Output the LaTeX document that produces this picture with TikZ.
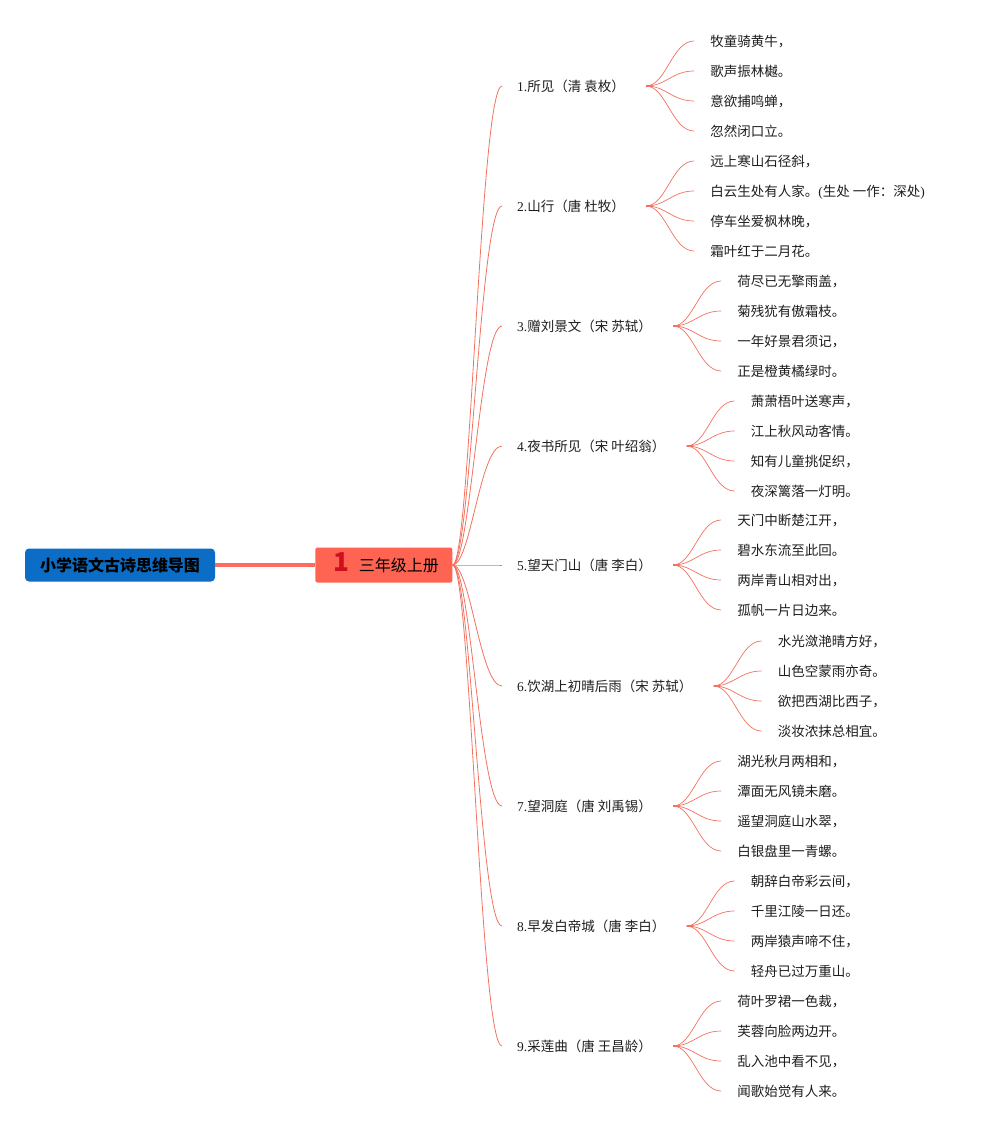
\documentclass[tikz,border=0pt]{standalone}
\usepackage{fontspec}
\setmainfont{Noto Sans CJK SC}
\newfontfamily\latinfont{Liberation Serif}
\usetikzlibrary{calc,positioning}

\definecolor{rootblue}{HTML}{0B6DC5}
\definecolor{topicred}{HTML}{FF6452}
\definecolor{onered}{HTML}{CC1020}
\definecolor{mainline}{HTML}{FF6B5E}
\definecolor{twigline}{HTML}{F2725F}
\definecolor{ink}{HTML}{1E1E1E}

\begin{document}
\begin{tikzpicture}[x=1pt, y=-1pt,
    rootbox/.style={fill=rootblue, rounded corners=4pt, minimum width=190pt, minimum height=33pt,
        font=\fontsize{16}{16}\selectfont\bfseries, text=black},
    topicbox/.style={fill=topicred, rounded corners=2pt, minimum width=137pt, minimum height=35pt,
        inner ysep=1pt, text height=16pt, text depth=3pt, font=\fontsize{16}{16}\selectfont, text=black},
    title/.style={anchor=west, inner xsep=15pt, inner ysep=0pt, text height=11pt, text depth=1pt,
        font=\fontsize{13.5}{13.5}\selectfont, text=ink},
    leaf/.style={anchor=west, inner xsep=16pt, inner ysep=0pt, text height=11pt, text depth=1pt,
        font=\fontsize{13.5}{13.5}\selectfont, text=ink},
    branch/.style={twigline, line width=0.8pt},
    twig/.style={twigline, line width=0.7pt},
    stub/.style={twigline, line width=2pt}]
        \useasboundingbox (0,0) rectangle (992,1130);

        % --- 1. Root and first level ---
        \node[rootbox] (root) at (120,565) {小学语文古诗思维导图};
        \node[topicbox, right=100pt of root] (topic)
            {\hspace{5pt}{\color{onered}\fontsize{26}{26}\selectfont\bfseries 1}\hspace{9pt}三年级上册};
        \draw[mainline, line width=4pt] (root) -- (topic);

        % --- 2. Poems ---
        % 1. 所见
        \node[title] (t1) at (502,86) {{\latinfont 1.}所见（清 袁枚）};
        \coordinate (j1) at ([xshift=6pt]t1.east);
        \node[leaf] (l11) at ($(j1)+(48,-45)$) {牧童骑黄牛，};
        \node[leaf] (l12) at ($(j1)+(48,-15)$) {歌声振林樾。};
        \node[leaf] (l13) at ($(j1)+(48,15)$) {意欲捕鸣蝉，};
        \node[leaf] (l14) at ($(j1)+(48,45)$) {忽然闭口立。};

        % 2. 山行
        \node[title] (t2) at (502,206) {{\latinfont 2.}山行（唐 杜牧）};
        \coordinate (j2) at ([xshift=6pt]t2.east);
        \node[leaf] (l21) at ($(j2)+(48,-45)$) {远上寒山石径斜，};
        \node[leaf] (l22) at ($(j2)+(48,-15)$) {白云生处有人家。{\latinfont (}生处 一作：深处{\latinfont )}};
        \node[leaf] (l23) at ($(j2)+(48,15)$) {停车坐爱枫林晚，};
        \node[leaf] (l24) at ($(j2)+(48,45)$) {霜叶红于二月花。};

        % 3. 赠刘景文
        \node[title] (t3) at (502,326) {{\latinfont 3.}赠刘景文（宋 苏轼）};
        \coordinate (j3) at ([xshift=6pt]t3.east);
        \node[leaf] (l31) at ($(j3)+(48,-45)$) {荷尽已无擎雨盖，};
        \node[leaf] (l32) at ($(j3)+(48,-15)$) {菊残犹有傲霜枝。};
        \node[leaf] (l33) at ($(j3)+(48,15)$) {一年好景君须记，};
        \node[leaf] (l34) at ($(j3)+(48,45)$) {正是橙黄橘绿时。};

        % 4. 夜书所见
        \node[title] (t4) at (502,446) {{\latinfont 4.}夜书所见（宋 叶绍翁）};
        \coordinate (j4) at ([xshift=6pt]t4.east);
        \node[leaf] (l41) at ($(j4)+(48,-45)$) {萧萧梧叶送寒声，};
        \node[leaf] (l42) at ($(j4)+(48,-15)$) {江上秋风动客情。};
        \node[leaf] (l43) at ($(j4)+(48,15)$) {知有儿童挑促织，};
        \node[leaf] (l44) at ($(j4)+(48,45)$) {夜深篱落一灯明。};

        % 5. 望天门山
        \node[title] (t5) at (502,565) {{\latinfont 5.}望天门山（唐 李白）};
        \coordinate (j5) at ([xshift=6pt]t5.east);
        \node[leaf] (l51) at ($(j5)+(48,-45)$) {天门中断楚江开，};
        \node[leaf] (l52) at ($(j5)+(48,-15)$) {碧水东流至此回。};
        \node[leaf] (l53) at ($(j5)+(48,15)$) {两岸青山相对出，};
        \node[leaf] (l54) at ($(j5)+(48,45)$) {孤帆一片日边来。};

        % 6. 饮湖上初晴后雨
        \node[title] (t6) at (502,686) {{\latinfont 6.}饮湖上初晴后雨（宋 苏轼）};
        \coordinate (j6) at ([xshift=6pt]t6.east);
        \node[leaf] (l61) at ($(j6)+(48,-45)$) {水光潋滟晴方好，};
        \node[leaf] (l62) at ($(j6)+(48,-15)$) {山色空蒙雨亦奇。};
        \node[leaf] (l63) at ($(j6)+(48,15)$) {欲把西湖比西子，};
        \node[leaf] (l64) at ($(j6)+(48,45)$) {淡妆浓抹总相宜。};

        % 7. 望洞庭
        \node[title] (t7) at (502,806) {{\latinfont 7.}望洞庭（唐 刘禹锡）};
        \coordinate (j7) at ([xshift=6pt]t7.east);
        \node[leaf] (l71) at ($(j7)+(48,-45)$) {湖光秋月两相和，};
        \node[leaf] (l72) at ($(j7)+(48,-15)$) {潭面无风镜未磨。};
        \node[leaf] (l73) at ($(j7)+(48,15)$) {遥望洞庭山水翠，};
        \node[leaf] (l74) at ($(j7)+(48,45)$) {白银盘里一青螺。};

        % 8. 早发白帝城
        \node[title] (t8) at (502,926) {{\latinfont 8.}早发白帝城（唐 李白）};
        \coordinate (j8) at ([xshift=6pt]t8.east);
        \node[leaf] (l81) at ($(j8)+(48,-45)$) {朝辞白帝彩云间，};
        \node[leaf] (l82) at ($(j8)+(48,-15)$) {千里江陵一日还。};
        \node[leaf] (l83) at ($(j8)+(48,15)$) {两岸猿声啼不住，};
        \node[leaf] (l84) at ($(j8)+(48,45)$) {轻舟已过万重山。};

        % 9. 采莲曲
        \node[title] (t9) at (502,1046) {{\latinfont 9.}采莲曲（唐 王昌龄）};
        \coordinate (j9) at ([xshift=6pt]t9.east);
        \node[leaf] (l91) at ($(j9)+(48,-45)$) {荷叶罗裙一色裁，};
        \node[leaf] (l92) at ($(j9)+(48,-15)$) {芙蓉向脸两边开。};
        \node[leaf] (l93) at ($(j9)+(48,15)$) {乱入池中看不见，};
        \node[leaf] (l94) at ($(j9)+(48,45)$) {闻歌始觉有人来。};

        % --- 3. Connectors ---
        \foreach \k in {1,...,9} {
            \draw[branch] (topic.east) .. controls +(18,0) and +(-22,0) .. (t\k.west);
            \draw[stub] (j\k) -- +(5,0);
            \foreach \i in {1,...,4}
                \draw[twig] (j\k) .. controls +(20,0) and +(-22,0) .. (l\k\i.west);
        }
    \end{tikzpicture}
\end{document}
